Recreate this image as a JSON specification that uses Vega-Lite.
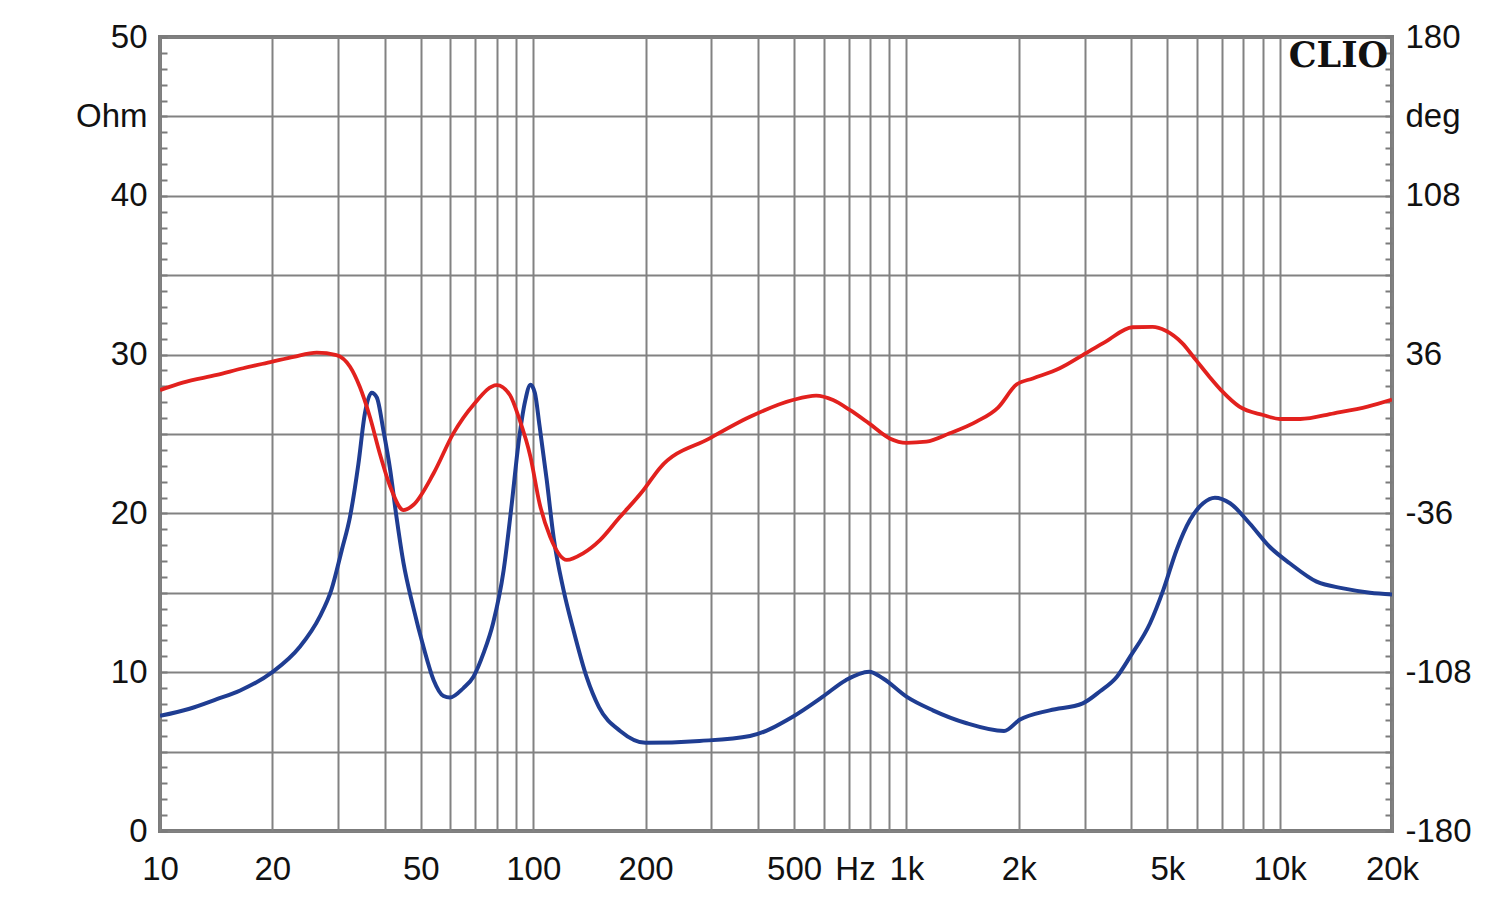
{
  "$schema": "https://vega.github.io/schema/vega-lite/v6.json",
  "width": 1232,
  "height": 794,
  "autosize": "none",
  "padding": {"left": 160, "top": 37, "right": 108, "bottom": 69},
  "background": "white",
  "config": {
    "view": {"stroke": "#7b7b7b", "strokeWidth": 4},
    "font": "Liberation Sans",
    "axis": {"labelFont": "Liberation Sans", "labelFontSize": 33, "labelColor": "#111111", "domain": false, "title": null, "gridColor": "#828282", "gridWidth": 2, "tickColor": "#7b7b7b", "tickWidth": 2}
  },
  "datasets": {
    "imp": [
      {"f": 10, "ohm": 7.25}, {"f": 12, "ohm": 7.7}, {"f": 14.2, "ohm": 8.3}, {"f": 16.4, "ohm": 8.85},
      {"f": 20, "ohm": 10.0}, {"f": 23.7, "ohm": 11.6}, {"f": 26.8, "ohm": 13.5}, {"f": 28.8, "ohm": 15.2},
      {"f": 30.7, "ohm": 17.7}, {"f": 32.3, "ohm": 19.8}, {"f": 34.0, "ohm": 23.1}, {"f": 35.4, "ohm": 26.3},
      {"f": 36.9, "ohm": 27.6}, {"f": 38.1, "ohm": 27.3}, {"f": 39.7, "ohm": 25.2}, {"f": 41.4, "ohm": 22.7},
      {"f": 43.0, "ohm": 19.8}, {"f": 44.9, "ohm": 16.9}, {"f": 47.7, "ohm": 14.1}, {"f": 50.8, "ohm": 11.6},
      {"f": 54.1, "ohm": 9.5}, {"f": 57.5, "ohm": 8.5}, {"f": 59.8, "ohm": 8.4}, {"f": 65, "ohm": 9.0},
      {"f": 69.1, "ohm": 9.7}, {"f": 73.6, "ohm": 11.2}, {"f": 78.1, "ohm": 13.1}, {"f": 83.3, "ohm": 16.4},
      {"f": 87.6, "ohm": 20.6}, {"f": 91.3, "ohm": 24.4}, {"f": 95.2, "ohm": 27.1}, {"f": 98.3, "ohm": 28.1},
      {"f": 101, "ohm": 27.6}, {"f": 104, "ohm": 25.5}, {"f": 108.7, "ohm": 22.1}, {"f": 113.4, "ohm": 18.5},
      {"f": 120.5, "ohm": 15.2}, {"f": 128, "ohm": 12.7}, {"f": 139, "ohm": 9.7}, {"f": 150, "ohm": 7.8},
      {"f": 171, "ohm": 6.3}, {"f": 200, "ohm": 5.55}, {"f": 279, "ohm": 5.67}, {"f": 381, "ohm": 5.98},
      {"f": 496, "ohm": 7.2}, {"f": 597, "ohm": 8.46}, {"f": 688, "ohm": 9.5}, {"f": 794, "ohm": 10.03},
      {"f": 866, "ohm": 9.6}, {"f": 1000, "ohm": 8.46}, {"f": 1177, "ohm": 7.6}, {"f": 1443, "ohm": 6.8},
      {"f": 1826, "ohm": 6.3}, {"f": 2010, "ohm": 7.0}, {"f": 2421, "ohm": 7.6}, {"f": 2968, "ohm": 8.04},
      {"f": 3303, "ohm": 8.8}, {"f": 3664, "ohm": 9.72}, {"f": 3976, "ohm": 10.98}, {"f": 4496, "ohm": 13.08},
      {"f": 4879, "ohm": 15.18}, {"f": 5295, "ohm": 17.7}, {"f": 5748, "ohm": 19.58}, {"f": 6237, "ohm": 20.64},
      {"f": 6708, "ohm": 20.99}, {"f": 7364, "ohm": 20.64}, {"f": 8302, "ohm": 19.38}, {"f": 9400, "ohm": 17.9},
      {"f": 10640, "ohm": 16.86}, {"f": 12560, "ohm": 15.7}, {"f": 14800, "ohm": 15.28}, {"f": 17460, "ohm": 15.01},
      {"f": 20000, "ohm": 14.9}
    ],
    "phase": [
      {"f": 10, "deg": 19.9}, {"f": 11.5, "deg": 23.3}, {"f": 14.2, "deg": 26.8}, {"f": 16.7, "deg": 29.8},
      {"f": 20, "deg": 32.8}, {"f": 22.8, "deg": 35.0}, {"f": 26.3, "deg": 36.9}, {"f": 29.7, "deg": 35.8},
      {"f": 32.3, "deg": 30.5}, {"f": 34.3, "deg": 21.4}, {"f": 36.5, "deg": 7.8}, {"f": 38.8, "deg": -8.8},
      {"f": 41.4, "deg": -23.9}, {"f": 44.9, "deg": -34.5}, {"f": 47.7, "deg": -32.2}, {"f": 54.1, "deg": -17.8},
      {"f": 61.1, "deg": 0.3}, {"f": 69.1, "deg": 13.2}, {"f": 79.9, "deg": 22.2}, {"f": 86.6, "deg": 17.7},
      {"f": 92, "deg": 6.3}, {"f": 98.3, "deg": -10.3}, {"f": 104, "deg": -31.5}, {"f": 111, "deg": -46.6},
      {"f": 123, "deg": -57.1}, {"f": 136, "deg": -54.1}, {"f": 151, "deg": -48.1}, {"f": 170, "deg": -38.0},
      {"f": 197.5, "deg": -25.4}, {"f": 218, "deg": -15.6}, {"f": 297, "deg": -2.0}, {"f": 381, "deg": 7.8},
      {"f": 496, "deg": 15.4}, {"f": 573, "deg": 17.4}, {"f": 636, "deg": 15.4}, {"f": 705, "deg": 10.9},
      {"f": 794, "deg": 4.8}, {"f": 902, "deg": -2.0}, {"f": 1000, "deg": -4.0}, {"f": 1131, "deg": -3.5},
      {"f": 1306, "deg": 0.3}, {"f": 1540, "deg": 5.6}, {"f": 1760, "deg": 12.0}, {"f": 1972, "deg": 22.4},
      {"f": 2181, "deg": 25.2}, {"f": 2575, "deg": 29.8}, {"f": 2968, "deg": 35.8}, {"f": 3421, "deg": 41.9},
      {"f": 4031, "deg": 48.4}, {"f": 4567, "deg": 48.6}, {"f": 4955, "deg": 46.8}, {"f": 5489, "deg": 41.1},
      {"f": 5962, "deg": 33.6}, {"f": 6481, "deg": 26.0}, {"f": 7030, "deg": 19.2}, {"f": 7800, "deg": 12.4},
      {"f": 9030, "deg": 8.6}, {"f": 10020, "deg": 6.8}, {"f": 11360, "deg": 6.8}, {"f": 13980, "deg": 9.4},
      {"f": 17200, "deg": 12.4}, {"f": 20000, "deg": 15.6}
    ]
  },
  "layer": [
    {
      "data": {"name": "imp"},
      "mark": {"type": "line", "color": "#1f3d92", "strokeWidth": 4, "interpolate": "monotone", "clip": true},
      "encoding": {
        "x": {
          "field": "f",
          "type": "quantitative",
          "scale": {"type": "log", "domain": [10, 20000], "nice": false},
          "axis": {
            "orient": "bottom",
            "values": [10, 20, 30, 40, 50, 60, 70, 80, 90, 100, 200, 300, 400, 500, 600, 700, 728, 800, 900, 1000, 2000, 3000, 4000, 5000, 6000, 7000, 8000, 9000, 10000, 20000],
            "labelExpr": "datum.value == 728 ? 'Hz' : (indexof([10,20,50,100,200,500,1000,2000,5000,10000,20000], datum.value) >= 0 ? (datum.value >= 1000 ? (datum.value/1000) + 'k' : datum.value + '') : '')",
            "ticks": false,
            "labelPadding": 22,
            "labelOverlap": false,
            "labelFlush": false,
            "labelBound": false,
            "grid": true,
            "gridOpacity": {"condition": {"test": "datum.value == 728", "value": 0}, "value": 1}
          }
        },
        "y": {
          "field": "ohm",
          "type": "quantitative",
          "scale": {"domain": [0, 50], "nice": false, "zero": false},
          "axis": {
            "orient": "left",
            "values": [0,1,2,3,4,5,6,7,8,9,10,11,12,13,14,15,16,17,18,19,20,21,22,23,24,25,26,27,28,29,30,31,32,33,34,35,36,37,38,39,40,41,42,43,44,45,46,47,48,49,50],
            "labelExpr": "datum.value == 45 ? 'Ohm' : (datum.value % 10 == 0 ? datum.value + '' : '')",
            "grid": true,
            "gridOpacity": {"condition": {"test": "datum.value % 5 == 0", "value": 1}, "value": 0},
            "ticks": true,
            "tickSize": -7,
            "labelPadding": 20,
            "labelOverlap": false,
            "labelFlush": false,
            "labelBound": false,
            "labelBaseline": "middle"
          }
        }
      }
    },
    {
      "data": {"name": "phase"},
      "mark": {"type": "line", "color": "#e2211e", "strokeWidth": 3.8, "interpolate": "monotone", "clip": true},
      "encoding": {
        "x": {"field": "f", "type": "quantitative"},
        "y": {
          "field": "deg",
          "type": "quantitative",
          "scale": {"domain": [-180, 180], "nice": false, "zero": false},
          "axis": {
            "orient": "right",
            "values": [-180,-172.8,-165.6,-158.4,-151.2,-144,-136.8,-129.6,-122.4,-115.2,-108,-100.8,-93.6,-86.4,-79.2,-72,-64.8,-57.6,-50.4,-43.2,-36,-28.8,-21.6,-14.4,-7.2,0,7.2,14.4,21.6,28.8,36,43.2,50.4,57.6,64.8,72,79.2,86.4,93.6,100.8,108,115.2,122.4,129.6,136.8,144,151.2,158.4,165.6,172.8,180],
            "labelExpr": "abs(datum.value - 144) < 0.01 ? 'deg' : (indexof([-180,-108,-36,36,108,180], round(datum.value)) >= 0 && abs(datum.value - round(datum.value)) < 0.01 ? round(datum.value) + '' : '')",
            "grid": false,
            "ticks": true,
            "tickSize": -7,
            "labelPadding": 20,
            "labelOverlap": false,
            "labelFlush": false,
            "labelBound": false,
            "labelBaseline": "middle"
          }
        }
      }
    },
    {
      "data": {"values": [{"label": "CLIO"}]},
      "mark": {"type": "text", "align": "right", "baseline": "alphabetic", "dx": -4, "dy": 30, "font": "DejaVu Serif", "fontWeight": "bold", "fontSize": 35, "color": "#111111"},
      "encoding": {
        "x": {"datum": 20000, "type": "quantitative"},
        "y": {"datum": 50, "type": "quantitative", "scale": {"domain": [0, 50], "nice": false}, "axis": null},
        "text": {"field": "label", "type": "nominal"}
      }
    }
  ],
  "resolve": {"scale": {"y": "independent"}, "axis": {"y": "independent"}}
}
